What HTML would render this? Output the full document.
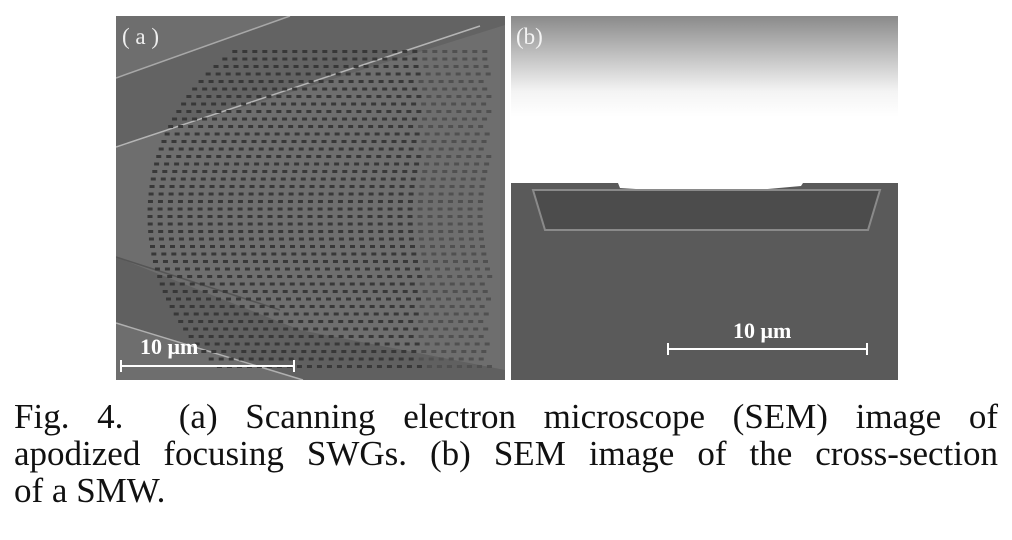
<!DOCTYPE html>
<html><head><meta charset="utf-8"><style>
body{margin:0;width:1012px;height:540px;background:#fff;overflow:hidden;position:relative;font-family:"Liberation Serif",serif}
.cap{position:absolute;left:14px;width:984px;font-size:35px;line-height:37px;color:#111}
.cap div{text-align:justify;text-align-last:justify;white-space:nowrap}
.cap div.last{text-align-last:left}
</style></head><body>
<svg width="1012" height="390" style="position:absolute;left:0;top:0">
<defs>
<linearGradient id="gb" x1="0" y1="0" x2="0" y2="1">
<stop offset="0" stop-color="#8a8a8a"/><stop offset="0.45" stop-color="#f4f4f4"/><stop offset="0.6" stop-color="#fff"/><stop offset="1" stop-color="#fff"/>
</linearGradient>
<clipPath id="ca"><rect x="116" y="16" width="389" height="364"/></clipPath>
</defs>
<g clip-path="url(#ca)">
<rect x="116" y="16" width="389" height="364" fill="#6e6e6e"/>
<polygon points="116,78 290,16 505,16 505,25 116,147" fill="#636363"/>
<polygon points="116,257 300,330 505,370 505,380 303,380 116,323" fill="#606060"/>
<line x1="116" y1="78" x2="290" y2="16" stroke="#a8a8a8" stroke-width="1.5"/>
<line x1="116" y1="147" x2="480" y2="26" stroke="#b5b5b5" stroke-width="1.5"/>
<line x1="116" y1="257" x2="280" y2="310" stroke="#555" stroke-width="1.5"/>
<line x1="116" y1="323" x2="303" y2="380" stroke="#b0b0b0" stroke-width="1.5"/>
<g id="holes"></g>
<text x="122" y="44" fill="#eee" font-size="23" font-family="Liberation Serif">( a )</text>
<text x="140" y="354" fill="#fff" font-size="22" font-weight="bold" font-family="Liberation Serif">10 μm</text>
<line x1="121" y1="366" x2="294" y2="366" stroke="#fff" stroke-width="2"/>
<line x1="121" y1="360" x2="121" y2="372" stroke="#fff" stroke-width="2"/>
<line x1="294" y1="360" x2="294" y2="372" stroke="#fff" stroke-width="2"/>
</g>
<g>
<rect x="511" y="16" width="387" height="168" fill="url(#gb)"/>
<rect x="511" y="183" width="387" height="197" fill="#5a5a5a"/>
<path d="M618,183 L620,188 L700,193 L724,193 L801,186 L803,183Z" fill="#fff"/>
<polygon points="533,190 880,190 868,230 545,230" fill="#4c4c4c" stroke="#8a8a8a" stroke-width="2"/>
<text x="516" y="44" fill="#f4f4f4" font-size="23" font-family="Liberation Serif">(b)</text>
<text x="733" y="338" fill="#fff" font-size="22" font-weight="bold" font-family="Liberation Serif">10 μm</text>
<line x1="668" y1="349" x2="867" y2="349" stroke="#fff" stroke-width="2"/>
<line x1="668" y1="343" x2="668" y2="355" stroke="#fff" stroke-width="2"/>
<line x1="867" y1="343" x2="867" y2="355" stroke="#fff" stroke-width="2"/>
</g>
</svg>
<div class="cap" style="top:398px">
<div>Fig. 4.&nbsp;&nbsp;(a) Scanning electron microscope (SEM) image of</div>
<div>apodized focusing SWGs. (b) SEM image of the cross-section</div>
<div class="last">of a SMW.</div>
</div>
<script>
var g=document.getElementById('holes');
var R=200,cy=215,ns='http://www.w3.org/2000/svg';
for(var k=0;k<36;k++){
  var cx=350+10*k;
  for(var y=44;y<=372;y+=7.5){
    var dy=y-cy; if(Math.abs(dy)>=R-10) continue;
    var x=cx-Math.sqrt(R*R-dy*dy);
    if(x<140||x>490) continue;
    if(Math.abs(dy)>168) continue;
    var r=document.createElementNS(ns,'rect');
    r.setAttribute('x',x-2.5);r.setAttribute('y',y-1.5);r.setAttribute('width',5);r.setAttribute('height',3);
    r.setAttribute('fill',x>420?'#505050':'#383838');
    
    
    g.appendChild(r);
  }
}
</script>
</body></html>
